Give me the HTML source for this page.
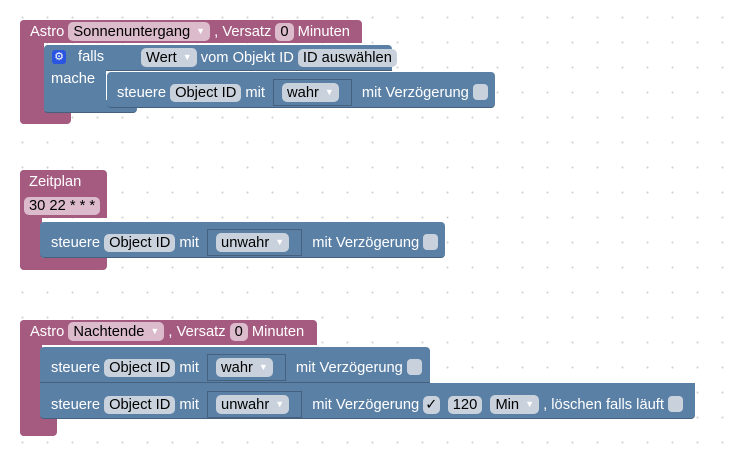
<!DOCTYPE html><html><head><meta charset="utf-8"><style>
body{margin:0;width:742px;height:456px;overflow:hidden;background:#fff;
background-image:radial-gradient(circle,#d0d0d0 0.8px,transparent 1.2px);background-size:25px 25px;background-position:10px 5px;
font-family:"Liberation Sans",sans-serif;font-size:14.7px;position:relative}
.b{position:absolute}
.p{background:#a55b80}.u{background:#5b80a5;border-bottom:1px solid #45617e}
.t{position:absolute;color:#fff;white-space:nowrap;line-height:18px}
.f{display:inline-block;background:#c9d2dc;color:#000;border-radius:5px;padding:0 5px;line-height:18px}
.fp{display:inline-block;background:#dcbccc;color:#000;border-radius:5px;padding:0 5px;line-height:18px}
.dd{color:#fff;font-size:9px;margin-left:6px;vertical-align:2px}
.sock{display:inline-block;border:1px solid #45617e;padding:3px 12px 3px 8px;margin:0 6px 0 4px}
.cb{display:inline-block;width:15px;height:16px;background:#c9d2dc;border-radius:4px;vertical-align:-3px}
</style></head><body>
<!-- block 1 -->
<div class="b p" style="left:20px;top:20px;width:342px;height:23px;border-radius:4px 4px 0 0"></div>
<div class="b p" style="left:20px;top:20px;width:24px;height:104px;border-radius:4px 0 0 4px"></div>
<div class="b p" style="left:20px;top:111px;width:51px;height:13px;border-radius:0 0 4px 4px"></div>
<div class="t" style="left:30px;top:22px">Astro <span class="fp">Sonnenuntergang<span class="dd">▼</span></span> , Versatz <span class="fp">0</span> Minuten</div>
<div class="b u" style="left:44px;top:45px;width:348px;height:25px;border-radius:4px 4px 0 0"></div>
<div class="b u" style="left:44px;top:45px;width:62px;height:67px;border-radius:4px 0 0 4px"></div>
<div class="b u" style="left:44px;top:100px;width:93px;height:12px;border-radius:0 0 4px 4px"></div>
<div class="b" style="left:52px;top:50px;width:14px;height:14px;background:#2a55e0;border-radius:3px;color:#fff;font-size:11px;text-align:center;line-height:14px">⚙</div>
<div class="t" style="left:78px;top:48px">falls</div>
<div class="t" style="left:51px;top:70px">mache</div>
<div class="t" style="left:141px;top:48px"><span class="f">Wert<span class="dd">▼</span></span> vom Objekt ID <span class="f">ID auswählen</span></div>
<div class="b u" style="left:107px;top:72px;width:388px;height:35px;border-radius:4px"></div>
<div class="t" style="left:117px;top:79px">steuere <span class="f">Object ID</span> mit <span class="sock"><span class="f">wahr<span class="dd">▼</span></span></span> mit Verzögerung <span class="cb"></span></div>
<!-- block 2 -->
<div class="b p" style="left:20px;top:170px;width:87px;height:48px;border-radius:4px 4px 0 0"></div>
<div class="b p" style="left:20px;top:170px;width:22px;height:100px;border-radius:4px 0 0 4px"></div>
<div class="b p" style="left:20px;top:258px;width:87px;height:12px;border-radius:0 0 4px 4px"></div>
<div class="t" style="left:29px;top:173px">Zeitplan</div>
<div class="t" style="left:24px;top:197px"><span class="fp">30 22 * * *</span></div>
<div class="b u" style="left:40px;top:222px;width:405px;height:35px;border-radius:4px"></div>
<div class="t" style="left:51px;top:229px">steuere <span class="f">Object ID</span> mit <span class="sock"><span class="f">unwahr<span class="dd">▼</span></span></span> mit Verzögerung <span class="cb"></span></div>
<!-- block 3 -->
<div class="b p" style="left:20px;top:320px;width:297px;height:25px;border-radius:4px 4px 0 0"></div>
<div class="b p" style="left:20px;top:320px;width:22px;height:116px;border-radius:4px 0 0 4px"></div>
<div class="b p" style="left:20px;top:418px;width:37px;height:18px;border-radius:0 0 4px 4px"></div>
<div class="t" style="left:30px;top:322px">Astro <span class="fp">Nachtende<span class="dd">▼</span></span> , Versatz <span class="fp">0</span> Minuten</div>
<div class="b u" style="left:40px;top:347px;width:390px;height:35px;border-radius:4px 4px 0 0"></div>
<div class="t" style="left:51px;top:354px">steuere <span class="f">Object ID</span> mit <span class="sock"><span class="f">wahr<span class="dd">▼</span></span></span> mit Verzögerung <span class="cb"></span></div>
<div class="b u" style="left:40px;top:383px;width:655px;height:35px;border-radius:0 0 4px 4px"></div>
<div class="t" style="left:51px;top:391px">steuere <span class="f">Object ID</span> mit <span class="sock"><span class="f">unwahr<span class="dd">▼</span></span></span> mit Verzögerung <span class="f" style="padding:0 2px">✓</span> &nbsp;<span class="f">120</span>&nbsp; <span class="f">Min<span class="dd">▼</span></span> , löschen falls läuft <span class="cb"></span></div>
</body></html>
